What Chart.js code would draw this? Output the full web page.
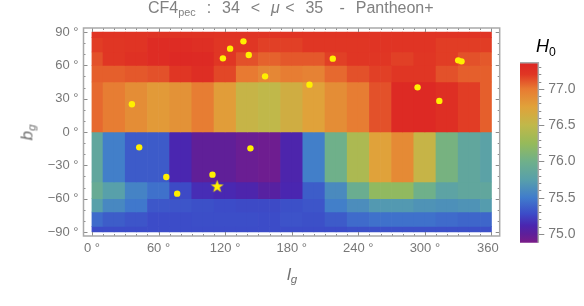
<!DOCTYPE html>
<html>
<head>
<meta charset="utf-8">
<script src="https://cdn.jsdelivr.net/npm/chart.js@4"></script>
<style>
    html, body { margin: 0; padding: 0; background: #fff; }
    #page { position: relative; width: 584px; height: 306px; overflow: hidden; font-family: "Liberation Sans", sans-serif; }
    canvas { position: absolute; top: 0; }
    .label { position: absolute; white-space: pre; line-height: 1; }
    .label sub { font-size: 68%; line-height: 0; vertical-align: -0.3em; }
</style>
</head>
<body>
<div id="page">
    <canvas id="sky" width="584" height="306" style="left:0"></canvas>
    <canvas id="scale" width="74" height="306" style="left:510px"></canvas>
    <div class="label" style="left:148px;top:0;font-size:16px;word-spacing:1px;color:#808080">CF4<sub>pec</sub>  :  34  &lt;  <i>μ</i> &lt;  35   -  Pantheon+</div>
    <div class="label" style="left:19px;top:124px;font-size:17px;color:#707070;transform:rotate(-90deg)"><i>b<sub>g</sub></i></div>
    <div class="label" style="left:287px;top:266px;font-size:17px;color:#707070"><i>l<sub>g</sub></i></div>
    <div class="label" style="left:536px;top:37px;font-size:18px;color:#000"><i>H<sub style="font-style:normal">0</sub></i></div>
</div>
<script>
// cell edges, degrees
const lEdges = [0, 10, 30, 50, 70, 90, 110, 130, 150, 170, 190, 210, 230, 250, 270, 290, 310, 330, 350, 360];
const bEdges = [90, 85, 72, 60, 45, 0, -45, -60, -72, -85, -90];

// H0 per cell, one list per latitude band, north to south
const band85to90 = [77.22, 77.22, 77.22, 77.23, 77.23, 77.23, 77.22, 77.22, 77.22, 77.22, 77.22, 77.22, 77.22, 77.22, 77.22, 77.22, 77.22, 77.22, 77.22];
const band72to85 = [77.18, 77.2, 77.22, 77.3, 77.3, 77.27, 77.2, 77.2, 77.17, 77.17, 77.2, 77.2, 77.2, 77.22, 77.22, 77.22, 77.18, 77.18, 77.18];
const band60to72 = [77.12, 77.2, 77.25, 77.3, 77.33, 77.32, 77.2, 77.12, 77.07, 77.1, 77.1, 77.17, 77.2, 77.2, 77.17, 77.2, 77.18, 77.12, 77.1];
const band45to60 = [77.08, 77.08, 77.1, 77.12, 77.2, 77.28, 77.15, 77.0, 76.92, 76.98, 76.95, 77.05, 77.12, 77.17, 77.2, 77.2, 77.12, 77.08, 77.08];
const band0to45 = [77.05, 76.98, 76.88, 76.8, 76.85, 76.98, 76.78, 76.55, 76.5, 76.62, 76.75, 76.88, 76.98, 77.12, 77.32, 77.33, 77.27, 77.18, 77.08];
const bandM45to0 = [75.85, 75.52, 75.35, 75.35, 75.12, 74.99, 74.99, 74.95, 74.93, 75.1, 75.52, 76.0, 76.38, 76.75, 76.9, 76.55, 76.05, 75.85, 75.78];
const bandM60toM45 = [75.92, 75.75, 75.55, 75.45, 75.27, 75.15, 75.13, 75.1, 75.04, 75.12, 75.36, 75.6, 75.95, 76.22, 76.22, 76.0, 75.8, 75.85, 75.85];
const bandM72toM60 = [75.75, 75.58, 75.48, 75.33, 75.32, 75.3, 75.28, 75.27, 75.27, 75.3, 75.32, 75.52, 75.62, 75.7, 75.7, 75.66, 75.64, 75.66, 75.72];
const bandM85toM72 = [75.42, 75.36, 75.32, 75.28, 75.28, 75.29, 75.29, 75.29, 75.28, 75.31, 75.3, 75.35, 75.42, 75.45, 75.45, 75.45, 75.42, 75.4, 75.4];
const bandM90toM85 = [75.28, 75.28, 75.28, 75.28, 75.28, 75.28, 75.28, 75.28, 75.28, 75.28, 75.28, 75.28, 75.3, 75.3, 75.3, 75.3, 75.3, 75.3, 75.3];
const bands = [band85to90, band72to85, band60to72, band45to60, band0to45, bandM45to0, bandM60toM45, bandM72toM60, bandM85toM72, bandM90toM85];

// hosts, galactic coordinates
const hostL = [36, 42.6, 118, 124.5, 136.5, 141.3, 156, 142.8, 217, 196, 293.4, 313, 330, 333, 67, 76.8, 108.6];
const hostB = [25, -13.8, 66.3, 75, 81.6, 69.3, 50.1, -14.7, 66, 42.6, 40.2, 28, 64.5, 63.6, -40.5, -55.5, -38.4];
const starL = [112.8];
const starB = [-49.2];

// ticks
const lTicks = [0, 60, 120, 180, 240, 300, 360];
const lLabels = ['0 °', '60 °', '120 °', '180 °', '240 °', '300 °', '360  '];
const bTicks = [-90, -60, -30, 0, 30, 60, 90];
const bLabels = ['−90 °', '−60 °', '−30 °', '0 °', '30 °', '60 °', '90 °'];
const h0Ticks = [75.0, 75.5, 76.0, 76.5, 77.0];
const h0Range = [74.88, 77.36];

// colour ramp
const rampValues = [74.88, 75.0, 75.12, 75.28, 75.5, 75.75, 76.0, 76.25, 76.5, 76.75, 77.0, 77.2, 77.36];
const rampColors = [
    [122, 28, 136], [94, 31, 154], [74, 38, 176], [60, 76, 200], [64, 124, 204], [88, 160, 170],
    [111, 176, 138], [150, 186, 90], [192, 184, 74], [224, 162, 58], [232, 122, 50], [224, 54, 36], [220, 38, 36]
];

function h0Color (v) {
    let i = 0;
    while (i < rampValues.length - 2 && v > rampValues[i + 1]) i++;
    const t = Math.min(1, Math.max(0, (v - rampValues[i]) / (rampValues[i + 1] - rampValues[i])));
    const c = rampColors[i].map((a, k) => Math.round(a + (rampColors[i + 1][k] - a) * t));
    return 'rgb(' + c.join(',') + ')';
}

// one bar per 10 degree slot, so the bar width follows the x scale
function bandCells (values, r) {
    const cells = [];
    values.forEach((h, c) => {
        for (let l = lEdges[c]; l < lEdges[c + 1]; l += 10) {
            cells.push({ x: l + 5, y: [bEdges[r + 1], bEdges[r]], h: h });
        }
    });
    return cells;
}

function starImage () {
    const img = document.createElement('canvas');
    img.width = img.height = 15;
    const g = img.getContext('2d');
    g.fillStyle = '#fff000';
    g.beginPath();
    for (let i = 0; i < 10; i++) {
        const r = i % 2 ? 2.7 : 6.8;
        const a = -Math.PI / 2 + i * Math.PI / 5;
        g.lineTo(7.5 + r * Math.cos(a), 7.5 + r * Math.sin(a));
    }
    g.closePath();
    g.fill();
    return img;
}

// Mathematica style frame with ticks inside
const framePlugin = {
    id: 'frame',
    afterDraw (chart) {
        const g = chart.ctx, a = chart.chartArea, x = chart.scales.x, y = chart.scales.y;
        g.save();
        g.strokeStyle = '#8c8c8c';
        g.lineWidth = 1;
        g.beginPath();
        for (let l = 0; l <= 360; l += 10) {
            const px = Math.round(x.getPixelForValue(l)) + 0.5, len = l % 60 ? 2 : 4;
            g.moveTo(px, a.bottom); g.lineTo(px, a.bottom - len);
            g.moveTo(px, a.top); g.lineTo(px, a.top + len);
        }
        for (let b = -90; b <= 90; b += 10) {
            const py = Math.round(y.getPixelForValue(b)) + 0.5, len = b % 30 ? 2 : 4;
            g.moveTo(a.left, py); g.lineTo(a.left + len, py);
            g.moveTo(a.right, py); g.lineTo(a.right - len, py);
        }
        g.stroke();
        g.strokeStyle = '#a9a9a9';
        g.lineWidth = 1.5;
        g.strokeRect(a.left, a.top, a.right - a.left, a.bottom - a.top);
        g.restore();
    }
};

const scaleTicksPlugin = {
    id: 'scaleTicks',
    afterDraw (chart) {
        const g = chart.ctx, a = chart.chartArea, y = chart.scales.y;
        g.save();
        g.strokeStyle = '#8c8c8c';
        g.lineWidth = 1;
        g.beginPath();
        for (let i = 0; i <= 23; i++) {
            const v = 75 + i / 10;
            if (v > h0Range[1]) break;
            const py = Math.round(y.getPixelForValue(v)) + 0.5;
            g.moveTo(a.right, py); g.lineTo(a.right + (i % 5 ? 3 : 6), py);
        }
        g.stroke();
        g.strokeStyle = '#a9a9a9';
        g.lineWidth = 1.5;
        g.beginPath();
        g.moveTo(a.left, a.top); g.lineTo(a.right, a.top); g.lineTo(a.right, a.bottom);
        g.stroke();
        g.restore();
    }
};

const tickFont = { family: '"Liberation Sans", sans-serif', size: 13 };

const datasets = bands.map((values, r) => ({
    type: 'bar',
    data: bandCells(values, r),
    grouped: false,
    categoryPercentage: 1,
    barPercentage: 1,
    backgroundColor: ctx => h0Color(ctx.raw.h),
    order: 2
}));
datasets.push({
    type: 'scatter',
    data: hostL.map((l, i) => ({ x: l, y: hostB[i] })),
    pointStyle: 'circle',
    pointRadius: 3.2,
    pointBackgroundColor: '#fff000',
    pointBorderWidth: 0,
    order: 1
});
datasets.push({
    type: 'scatter',
    data: starL.map((l, i) => ({ x: l, y: starB[i] })),
    pointStyle: starImage(),
    order: 0
});

new Chart(document.getElementById('sky').getContext('2d'), {
    type: 'bar',
    data: { datasets: datasets },
    options: {
        responsive: false,
        animation: false,
        layout: { padding: { top: 28, right: 84.3, bottom: 0, left: 0 } },
        plugins: { legend: { display: false }, tooltip: { enabled: false } },
        scales: {
            x: {
                type: 'linear',
                offset: false,
                min: -7.6,
                max: 367.4,
                grid: { display: false, offset: false, drawTicks: false },
                border: { display: false },
                afterBuildTicks: s => { s.ticks = lTicks.map(v => ({ value: v })); },
                afterFit: s => { s.height = 70; },
                ticks: {
                    color: '#787878',
                    font: tickFont,
                    padding: 5,
                    maxRotation: 0,
                    autoSkip: false,
                    callback: v => lLabels[lTicks.indexOf(v)]
                }
            },
            y: {
                type: 'linear',
                min: -93.6,
                max: 93.6,
                grid: { display: false, drawTicks: false },
                border: { display: false },
                afterBuildTicks: s => { s.ticks = bTicks.map(v => ({ value: v })); },
                afterFit: s => { s.width = 83.5; },
                ticks: {
                    color: '#787878',
                    font: tickFont,
                    padding: 5,
                    autoSkip: false,
                    callback: v => bLabels[bTicks.indexOf(v)]
                }
            }
        }
    },
    plugins: [framePlugin]
});

function legendGradient (ctx) {
    const chart = ctx.chart;
    if (!chart.chartArea) return h0Color(h0Range[0]);
    const y = chart.scales.y;
    const grad = chart.ctx.createLinearGradient(0, y.getPixelForValue(h0Range[0]), 0, y.getPixelForValue(h0Range[1]));
    rampValues.forEach(v => grad.addColorStop((v - h0Range[0]) / (h0Range[1] - h0Range[0]), h0Color(v)));
    return grad;
}

new Chart(document.getElementById('scale').getContext('2d'), {
    type: 'bar',
    data: {
        labels: ['H0'],
        datasets: [{
            data: [h0Range],
            categoryPercentage: 1,
            barPercentage: 1,
            backgroundColor: legendGradient
        }]
    },
    options: {
        responsive: false,
        animation: false,
        layout: { padding: { top: 62.7, right: 0, bottom: 63.3, left: 10 } },
        plugins: { legend: { display: false }, tooltip: { enabled: false } },
        scales: {
            x: { display: false },
            y: {
                position: 'right',
                min: h0Range[0],
                max: h0Range[1],
                grid: { display: false, drawTicks: false },
                border: { display: false },
                afterBuildTicks: s => { s.ticks = h0Ticks.map(v => ({ value: v })); },
                afterFit: s => { s.width = 45.7; },
                ticks: {
                    color: '#787878',
                    font: { family: tickFont.family, size: 14 },
                    padding: 10,
                    callback: v => v.toFixed(1)
                }
            }
        }
    },
    plugins: [scaleTicksPlugin]
});
</script>
</body>
</html>
